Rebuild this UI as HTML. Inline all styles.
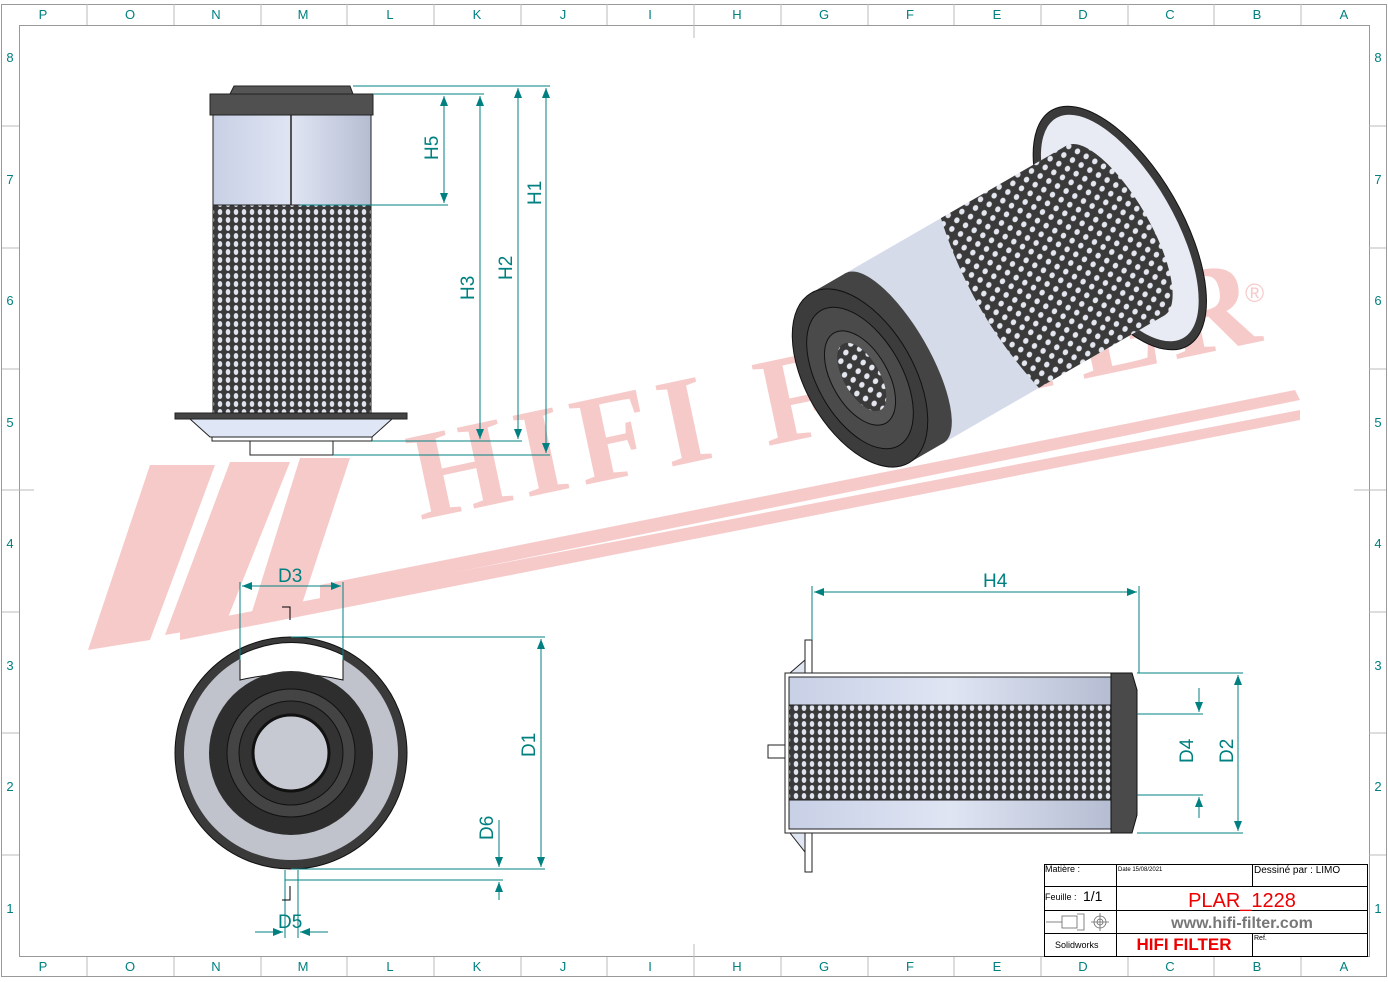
<!DOCTYPE html><html><head><meta charset="utf-8"><style>body{margin:0;background:#fff}svg{display:block;font-family:"Liberation Sans",sans-serif}</style></head><body>
<svg width="1388" height="982" viewBox="0 0 1388 982">
<defs>
<pattern id="mesh" width="8" height="8" patternUnits="userSpaceOnUse"><rect width="8" height="8" fill="#3a3a3a"/><ellipse cx="4" cy="4" rx="2.3" ry="3" fill="#dfe3ee"/></pattern>
<pattern id="mesh2" width="10" height="10" patternUnits="userSpaceOnUse" patternTransform="rotate(-30)"><rect width="10" height="10" fill="#3a3a3a"/><ellipse cx="5" cy="5" rx="3" ry="2.6" fill="#e4e7f0"/></pattern>
<linearGradient id="bg1" x1="0" x2="1"><stop offset="0" stop-color="#c8d0e6"/><stop offset=".5" stop-color="#dfe5f3"/><stop offset="1" stop-color="#b5bdd2"/></linearGradient>
<marker id="a" markerWidth="10" markerHeight="8" refX="10" refY="4" orient="auto-start-reverse" markerUnits="userSpaceOnUse"><path d="M0,0L10,4L0,8z" fill="#008080"/></marker>
</defs>
<rect x="1.5" y="4.5" width="1385" height="972" fill="none" stroke="#999"/>
<rect x="19.5" y="25.5" width="1350" height="931" fill="none" stroke="#999"/>
<g stroke="#bbb">
<line x1="87" y1="4" x2="87" y2="25"/><line x1="174" y1="4" x2="174" y2="25"/><line x1="261" y1="4" x2="261" y2="25"/><line x1="347" y1="4" x2="347" y2="25"/><line x1="434" y1="4" x2="434" y2="25"/><line x1="521" y1="4" x2="521" y2="25"/><line x1="607" y1="4" x2="607" y2="25"/><line x1="694" y1="4" x2="694" y2="38"/><line x1="781" y1="4" x2="781" y2="25"/><line x1="868" y1="4" x2="868" y2="25"/><line x1="954" y1="4" x2="954" y2="25"/><line x1="1041" y1="4" x2="1041" y2="25"/><line x1="1128" y1="4" x2="1128" y2="25"/><line x1="1214" y1="4" x2="1214" y2="25"/><line x1="1301" y1="4" x2="1301" y2="25"/>
<line x1="87" y1="957" x2="87" y2="976"/><line x1="174" y1="957" x2="174" y2="976"/><line x1="261" y1="957" x2="261" y2="976"/><line x1="347" y1="957" x2="347" y2="976"/><line x1="434" y1="957" x2="434" y2="976"/><line x1="521" y1="957" x2="521" y2="976"/><line x1="607" y1="957" x2="607" y2="976"/><line x1="694" y1="944" x2="694" y2="976"/><line x1="781" y1="957" x2="781" y2="976"/><line x1="868" y1="957" x2="868" y2="976"/><line x1="954" y1="957" x2="954" y2="976"/><line x1="1041" y1="957" x2="1041" y2="976"/><line x1="1128" y1="957" x2="1128" y2="976"/><line x1="1214" y1="957" x2="1214" y2="976"/><line x1="1301" y1="957" x2="1301" y2="976"/>
<line x1="2" y1="126" x2="19" y2="126"/><line x1="2" y1="248" x2="19" y2="248"/><line x1="2" y1="369" x2="19" y2="369"/><line x1="2" y1="490" x2="34" y2="490"/><line x1="2" y1="612" x2="19" y2="612"/><line x1="2" y1="733" x2="19" y2="733"/><line x1="2" y1="855" x2="19" y2="855"/>
<line x1="1369" y1="126" x2="1386" y2="126"/><line x1="1369" y1="248" x2="1386" y2="248"/><line x1="1369" y1="369" x2="1386" y2="369"/><line x1="1354" y1="490" x2="1386" y2="490"/><line x1="1369" y1="612" x2="1386" y2="612"/><line x1="1369" y1="733" x2="1386" y2="733"/><line x1="1369" y1="855" x2="1386" y2="855"/>
</g>
<g fill="#008080" font-size="13" text-anchor="middle">
<text x="43" y="19">P</text><text x="130" y="19">O</text><text x="216" y="19">N</text><text x="303" y="19">M</text><text x="390" y="19">L</text><text x="477" y="19">K</text><text x="563" y="19">J</text><text x="650" y="19">I</text><text x="737" y="19">H</text><text x="824" y="19">G</text><text x="910" y="19">F</text><text x="997" y="19">E</text><text x="1083" y="19">D</text><text x="1170" y="19">C</text><text x="1257" y="19">B</text><text x="1344" y="19">A</text>
<text x="43" y="971">P</text><text x="130" y="971">O</text><text x="216" y="971">N</text><text x="303" y="971">M</text><text x="390" y="971">L</text><text x="477" y="971">K</text><text x="563" y="971">J</text><text x="650" y="971">I</text><text x="737" y="971">H</text><text x="824" y="971">G</text><text x="910" y="971">F</text><text x="997" y="971">E</text><text x="1083" y="971">D</text><text x="1170" y="971">C</text><text x="1257" y="971">B</text><text x="1344" y="971">A</text>
<text x="10" y="62">8</text><text x="10" y="184">7</text><text x="10" y="305">6</text><text x="10" y="427">5</text><text x="10" y="548">4</text><text x="10" y="670">3</text><text x="10" y="791">2</text><text x="10" y="913">1</text>
<text x="1378" y="62">8</text><text x="1378" y="184">7</text><text x="1378" y="305">6</text><text x="1378" y="427">5</text><text x="1378" y="548">4</text><text x="1378" y="670">3</text><text x="1378" y="791">2</text><text x="1378" y="913">1</text>
</g>
<g fill="#f4b4b4" opacity="0.7">
<polygon points="150,465 215,465 150,640 88,650"/><polygon points="230,462 290,462 225,625 165,635"/><polygon points="300,458 350,458 300,610 250,618"/>
<polygon points="320,585 1295,390 1300,400 320,600"/><polygon points="180,625 1300,410 1300,420 180,640"/>
<text x="0" y="0" transform="translate(420,520) rotate(-12)" font-family="Liberation Serif,serif" font-weight="bold" font-size="126" letter-spacing="10">HIFI FILTER</text>
<text x="1245" y="302" font-size="26">®</text>
</g>
<path d="M230,94 L234,86 L350,86 L353,94Z" fill="#555" stroke="#222"/>
<rect x="210" y="94" width="163" height="21" fill="#505050" stroke="#222"/>
<rect x="213" y="115" width="158" height="90" fill="url(#bg1)" stroke="#222"/>
<line x1="291" y1="115" x2="291" y2="205" stroke="#222" stroke-width="1.5"/>
<rect x="213" y="205" width="158" height="208" fill="url(#mesh)" stroke="#222"/>
<rect x="175" y="413" width="232" height="6" fill="#444" stroke="#222"/>
<path d="M190,419 L392,419 L372,437 L210,437Z" fill="#dfe6f5" stroke="#222"/>
<rect x="212" y="437" width="160" height="4" fill="#fff" stroke="#222"/>
<rect x="250" y="441" width="83" height="14" fill="#fff" stroke="#222"/>
<g stroke="#008080" fill="none">
<line x1="353" y1="86" x2="550" y2="86"/><line x1="373" y1="94" x2="484" y2="94"/><line x1="300" y1="205" x2="448" y2="205"/><line x1="372" y1="441" x2="522" y2="441"/><line x1="333" y1="455" x2="550" y2="455"/>
<line x1="444" y1="96" x2="444" y2="203" marker-start="url(#a)" marker-end="url(#a)"/>
<line x1="480" y1="96" x2="480" y2="439" marker-start="url(#a)" marker-end="url(#a)"/>
<line x1="518" y1="88" x2="518" y2="439" marker-start="url(#a)" marker-end="url(#a)"/>
<line x1="546" y1="88" x2="546" y2="453" marker-start="url(#a)" marker-end="url(#a)"/>
</g>
<g fill="#008080" font-size="19">
<text transform="translate(438,160) rotate(-90)">H5</text>
<text transform="translate(474,300) rotate(-90)">H3</text>
<text transform="translate(512,280) rotate(-90)">H2</text>
<text transform="translate(541,205) rotate(-90)">H1</text>
</g>
<!-- iso view -->
<g transform="translate(860,378) rotate(-30)">
<ellipse cx="300" cy="0" rx="62" ry="136" fill="#3a3a3a" stroke="#111"/>
<ellipse cx="300" cy="0" rx="54" ry="127" fill="#e8ebf3"/>
<rect x="0" y="-98" width="295" height="196" fill="#d5dbe9"/>
<path d="M150,-98 L295,-98 L295,98 L150,98 Q128,0 150,-98Z" fill="url(#mesh2)"/>
<ellipse cx="295" cy="0" rx="34" ry="98" fill="url(#mesh2)"/>
<rect x="0" y="-98" width="40" height="196" fill="#444"/>
<ellipse cx="40" cy="0" rx="34" ry="98" fill="#444"/>
<ellipse cx="0" cy="0" rx="54" ry="98" fill="#3c3c3c" stroke="#111"/>
<ellipse cx="0" cy="0" rx="42" ry="78" fill="#4a4a4a" stroke="#111"/>
<ellipse cx="0" cy="0" rx="28" ry="52" fill="#555" stroke="#111"/>
<ellipse cx="2" cy="0" rx="18" ry="38" fill="url(#mesh2)"/>
</g>
<circle cx="291" cy="753" r="116" fill="#3a3a3a" stroke="#111"/>
<circle cx="291" cy="753" r="107" fill="#c0c2cc"/>
<path d="M240,655 Q291,630 343,655 L343,680 Q291,668 240,680Z" fill="#fff" stroke="#111"/>
<circle cx="291" cy="753" r="82" fill="#2e2e2e"/>
<circle cx="291" cy="753" r="64" fill="#444" stroke="#111"/>
<circle cx="291" cy="753" r="52" fill="#333" stroke="#111"/>
<circle cx="291" cy="753" r="38" fill="#c6c8d2" stroke="#111" stroke-width="3"/>
<g stroke="#008080" fill="none">
<line x1="240" y1="582" x2="240" y2="660"/><line x1="343" y1="582" x2="343" y2="660"/>
<line x1="242" y1="586" x2="341" y2="586" marker-start="url(#a)" marker-end="url(#a)"/>
<line x1="291" y1="637" x2="545" y2="637"/><line x1="291" y1="869" x2="545" y2="869"/>
<line x1="541" y1="639" x2="541" y2="867" marker-start="url(#a)" marker-end="url(#a)"/>
<line x1="285" y1="880" x2="503" y2="880"/>
<line x1="499" y1="820" x2="499" y2="867" marker-end="url(#a)"/><line x1="499" y1="900" x2="499" y2="882" marker-end="url(#a)"/>
<line x1="285" y1="870" x2="285" y2="938"/><line x1="298" y1="870" x2="298" y2="938"/>
<line x1="255" y1="932" x2="283" y2="932" marker-end="url(#a)"/><line x1="328" y1="932" x2="300" y2="932" marker-end="url(#a)"/>
</g>
<path d="M282,607 L290,607 L290,620" stroke="#000" fill="none"/><path d="M290,886 L290,900 L282,900" stroke="#000" fill="none"/>
<g fill="#008080" font-size="19">
<text x="278" y="582">D3</text>
<text transform="translate(535,757) rotate(-90)">D1</text>
<text transform="translate(493,840) rotate(-90)">D6</text>
<text x="278" y="928">D5</text>
</g>
<path d="M805,640 L812,640 L812,872 L805,872Z" fill="#fff" stroke="#222"/>
<path d="M790,673 L805,660 L805,852 L790,833Z" fill="#e0e5f2" stroke="#222"/>
<rect x="768" y="745" width="17" height="13" fill="#fff" stroke="#222"/>
<rect x="785" y="673" width="326" height="160" fill="#fff" stroke="#222"/>
<rect x="789" y="677" width="322" height="28" fill="url(#bg1)" stroke="#222"/>
<rect x="789" y="705" width="322" height="95" fill="url(#mesh)" stroke="#222"/>
<rect x="789" y="800" width="322" height="29" fill="url(#bg1)" stroke="#222"/>
<path d="M1111,673 L1132,673 L1137,690 L1137,815 L1132,833 L1111,833Z" fill="#4a4a4a" stroke="#111"/>
<g stroke="#008080" fill="none">
<line x1="812" y1="586" x2="812" y2="640"/><line x1="1139" y1="586" x2="1139" y2="673"/>
<line x1="814" y1="592" x2="1137" y2="592" marker-start="url(#a)" marker-end="url(#a)"/>
<line x1="1137" y1="673" x2="1243" y2="673"/><line x1="1137" y1="833" x2="1243" y2="833"/>
<line x1="1137" y1="714" x2="1203" y2="714"/><line x1="1137" y1="795" x2="1203" y2="795"/>
<line x1="1199" y1="688" x2="1199" y2="712" marker-end="url(#a)"/><line x1="1199" y1="818" x2="1199" y2="797" marker-end="url(#a)"/>
<line x1="1238" y1="675" x2="1238" y2="831" marker-start="url(#a)" marker-end="url(#a)"/>
</g>
<g fill="#008080" font-size="19">
<text x="983" y="587">H4</text>
<text transform="translate(1193,763) rotate(-90)">D4</text>
<text transform="translate(1233,763) rotate(-90)">D2</text>
</g>
<g stroke="#000" fill="none">
<rect x="1044.5" y="864.5" width="323" height="92"/>
<line x1="1044" y1="886.5" x2="1367" y2="886.5"/><line x1="1044" y1="910.5" x2="1367" y2="910.5"/><line x1="1044" y1="933.5" x2="1367" y2="933.5"/>
<line x1="1116.5" y1="864" x2="1116.5" y2="956"/><line x1="1252.5" y1="864" x2="1252.5" y2="886"/><line x1="1252.5" y1="933" x2="1252.5" y2="956"/>
</g>
<g stroke="#666" fill="none" stroke-width=".8"><line x1="1046" y1="922" x2="1062" y2="922"/><rect x="1062" y="916" width="15" height="12"/><path d="M1077,914 L1084,914 L1084,930 L1077,930"/><circle cx="1100" cy="922" r="6"/><circle cx="1100" cy="922" r="3"/><line x1="1100" y1="913" x2="1100" y2="931"/><line x1="1091" y1="922" x2="1109" y2="922"/></g>
<g font-size="9" fill="#000"><text x="1045" y="872">Matière :</text><text x="1118" y="871" font-size="6">Date 15/08/2021</text><text x="1254" y="873" font-size="10">Dessiné par : LIMO</text><text x="1045" y="900">Feuille :</text><text x="1083" y="901" font-size="14">1/1</text><text x="1055" y="948">Solidworks</text><text x="1254" y="940" font-size="7">Ref.</text></g>
<text x="1242" y="907" font-size="20" fill="#e00" text-anchor="middle">PLAR_1228</text>
<text x="1242" y="928" font-size="16" fill="#777" font-weight="bold" text-anchor="middle">www.hifi-filter.com</text>
<text x="1184" y="950" font-size="17" fill="#e00" font-weight="bold" text-anchor="middle">HIFI FILTER</text>
</svg></body></html>
